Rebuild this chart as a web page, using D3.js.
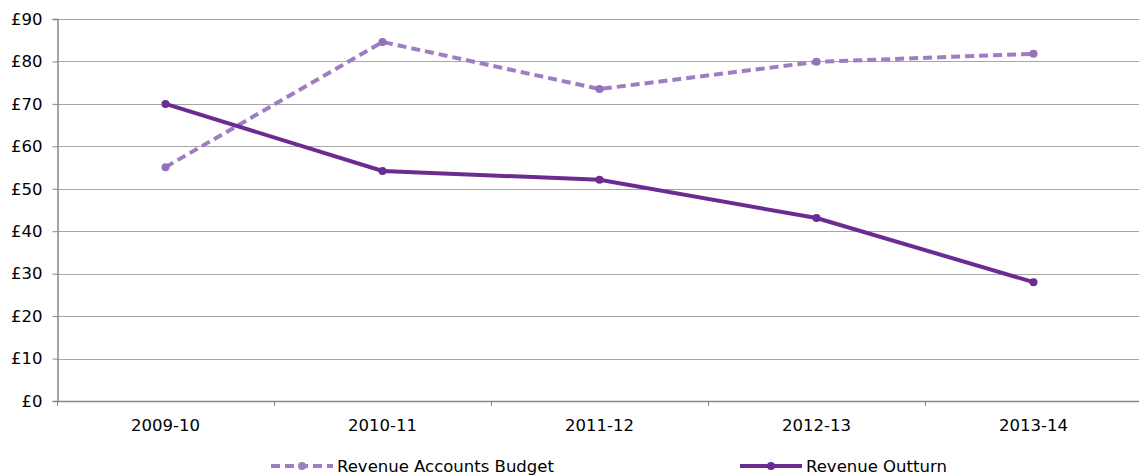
<!DOCTYPE html>
<html>
<head>
<meta charset="utf-8">
<script src="https://cdn.jsdelivr.net/npm/d3@7"></script>
<style>
  body { margin: 0; background: #fff; }
  text { font-family: "DejaVu Sans", Verdana, sans-serif; }
</style>
</head>
<body>
<div id="chart"></div>
<script>
var years = ["2009-10", "2010-11", "2011-12", "2012-13", "2013-14"];
var budget = [55.1, 84.6, 73.5, 79.9, 81.8];
var outturn = [70.0, 54.2, 52.1, 43.1, 28.0];
var yTicks = [0, 10, 20, 30, 40, 50, 60, 70, 80, 90];

var width = 1139, height = 475,
  margin = { top: 19, right: -3, bottom: 74, left: 57 },
  fontSize = 16.5;

var svg = d3.select("#chart").append("svg")
  .attr("width", width)
  .attr("height", height);

var x = d3.scaleBand()
  .domain(years)
  .range([margin.left, width - margin.right]);

var y = d3.scaleLinear()
  .domain([0, 90])
  .range([height - margin.bottom, margin.top]);

// gridlines
svg.append("g")
  .selectAll("line")
  .data(yTicks.filter(d => d > 0))
  .join("line")
  .attr("x1", margin.left)
  .attr("x2", width)
  .attr("y1", d => Math.round(y(d)) + 0.5)
  .attr("y2", d => Math.round(y(d)) + 0.5)
  .attr("stroke", "#a6a6a6")
  .attr("stroke-width", 1.2);

// y axis
var yAxis = d3.axisLeft(y)
  .tickValues(yTicks)
  .tickSize(5)
  .tickPadding(10)
  .tickFormat(d => "£" + d);

svg.append("g")
  .attr("transform", "translate(" + (margin.left + 0.5) + ",0)")
  .call(yAxis)
  .call(g => g.select(".domain").attr("stroke", "#868686").attr("stroke-width", 1.5))
  .call(g => g.selectAll(".tick line").attr("stroke", "#868686"))
  .call(g => g.selectAll(".tick text").attr("font-size", fontSize).attr("fill", "#000")
    .attr("font-family", "'DejaVu Sans', Verdana, sans-serif"));

// x axis
var boundaries = years.map(d => x(d)).concat([x.range()[1]]);
var xg = svg.append("g");
xg.append("line")
  .attr("x1", margin.left)
  .attr("x2", width)
  .attr("y1", Math.round(y(0)) + 0.5)
  .attr("y2", Math.round(y(0)) + 0.5)
  .attr("stroke", "#868686")
  .attr("stroke-width", 1.5);
xg.selectAll(".xtick")
  .data(boundaries)
  .join("line")
  .attr("class", "xtick")
  .attr("x1", d => Math.round(d) + 0.5)
  .attr("x2", d => Math.round(d) + 0.5)
  .attr("y1", y(0))
  .attr("y2", y(0) + 5)
  .attr("stroke", "#868686");
xg.selectAll(".xlabel")
  .data(years)
  .join("text")
  .attr("class", "xlabel")
  .attr("x", d => x(d) + x.bandwidth() / 2)
  .attr("y", y(0) + 30)
  .attr("text-anchor", "middle")
  .attr("font-size", fontSize)
  .text(d => d);

var line = d3.line()
  .x((d, i) => x(years[i]) + x.bandwidth() / 2)
  .y(d => y(d));

var budgetColor = "#9d7ec2", outColor = "#6b2c91";

// budget series
svg.append("path")
  .datum(budget)
  .attr("fill", "none")
  .attr("stroke", budgetColor)
  .attr("stroke-width", 4)
  .attr("stroke-dasharray", "9,5")
  .attr("d", line);
svg.selectAll(".bdot")
  .data(budget)
  .join("circle")
  .attr("class", "bdot")
  .attr("cx", (d, i) => x(years[i]) + x.bandwidth() / 2)
  .attr("cy", d => y(d))
  .attr("r", 4)
  .attr("fill", "#9470bb");

// outturn series
svg.append("path")
  .datum(outturn)
  .attr("fill", "none")
  .attr("stroke", outColor)
  .attr("stroke-width", 4)
  .attr("d", line);
svg.selectAll(".odot")
  .data(outturn)
  .join("circle")
  .attr("class", "odot")
  .attr("cx", (d, i) => x(years[i]) + x.bandwidth() / 2)
  .attr("cy", d => y(d))
  .attr("r", 4)
  .attr("fill", outColor);

// legend
var legend = [
  { name: "Revenue Accounts Budget", color: budgetColor, dash: "9,5", x: 271 },
  { name: "Revenue Outturn", color: outColor, dash: null, x: 740 }
];
var lg = svg.append("g").selectAll("g")
  .data(legend)
  .join("g")
  .attr("transform", d => "translate(" + d.x + ",466)");
lg.append("line")
  .attr("x1", 0).attr("x2", 62)
  .attr("stroke", d => d.color)
  .attr("stroke-width", 4)
  .attr("stroke-dasharray", d => d.dash);
lg.append("circle")
  .attr("cx", 31).attr("r", 4)
  .attr("fill", d => d.color);
lg.append("text")
  .attr("x", 66)
  .attr("y", 6)
  .attr("font-size", fontSize)
  .text(d => d.name);
</script>
</body>
</html>
